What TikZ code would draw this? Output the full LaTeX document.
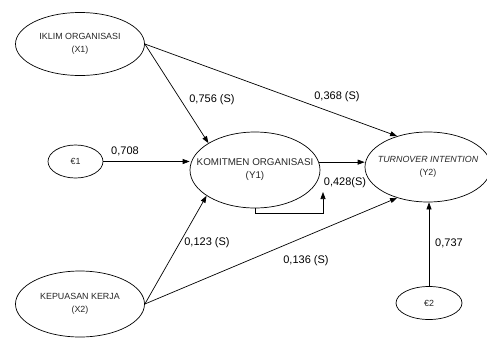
\documentclass[tikz,border=0pt]{standalone}
\usepackage{fontspec}
\setmainfont{Liberation Sans}
\usetikzlibrary{shapes.geometric,arrows.meta}
\tikzset{
  var/.style={draw,ellipse,inner xsep=-15pt,inner ysep=0pt,align=center,line width=0.7pt,
    text=black!85,font=\fontsize{8.9}{13}\selectfont},
  link/.style={-{Triangle[length=7pt,width=5pt]},line width=0.7pt},
  coef/.style={font=\fontsize{11}{12}\selectfont}
}
\begin{document}
\begin{tikzpicture}[x=1pt,y=-1pt]
\useasboundingbox (0,0) rectangle (487,338);

\node[var,minimum width=129pt,minimum height=63pt] (iklim) at (80,44) {IKLIM ORGANISASI\\(X1)};
\node[var,minimum width=129pt,minimum height=66pt] (kepuasan) at (80,304) {KEPUASAN KERJA\\(X2)};
\node[var,minimum width=130pt,minimum height=76pt,font=\fontsize{9.8}{13}\selectfont] (komitmen) at (255,170) {KOMITMEN ORGANISASI\\(Y1)};
\node[var,minimum width=126pt,minimum height=70pt] (turnover) at (428,167) {\textit{TURNOVER INTENTION}\\(Y2)};
\node[var,minimum width=55pt,minimum height=33pt] (e1) at (75.5,161.5) {€1};
\node[var,minimum width=66pt,minimum height=33pt] (e2) at (429,303) {€2};

\coordinate (loopa) at (323,213);
\coordinate (loopb) at (323,192);

\draw[link] (iklim.east) -- (komitmen.150);
\draw[link] (iklim.east) -- (turnover.135);
\draw[link] (kepuasan.east) -- (komitmen.208);
\draw[link] (kepuasan.east) -- (turnover.225);
\draw[link] (e1) -- (e1 -| komitmen.west);
\draw[link] (komitmen.7) -- (komitmen.7 -| turnover.west);
\draw[link] (komitmen.south) |- (loopa) -- (loopb);
\draw[link] (e2) -- (e2 |- turnover.south);

\node[coef] (c756) at (212,100) {0,756 (S)};
\node[coef] (c368) at (337,97) {0,368 (S)};
\node[coef] (c708) at (125,151) {0,708};
\node[coef] (c428) at (345,183) {0,428(S)};
\node[coef] (c123) at (207,243) {0,123 (S)};
\node[coef] (c136) at (306,261) {0,136 (S)};
\node[coef] (c737) at (449,243) {0,737};
\end{tikzpicture}
\end{document}
